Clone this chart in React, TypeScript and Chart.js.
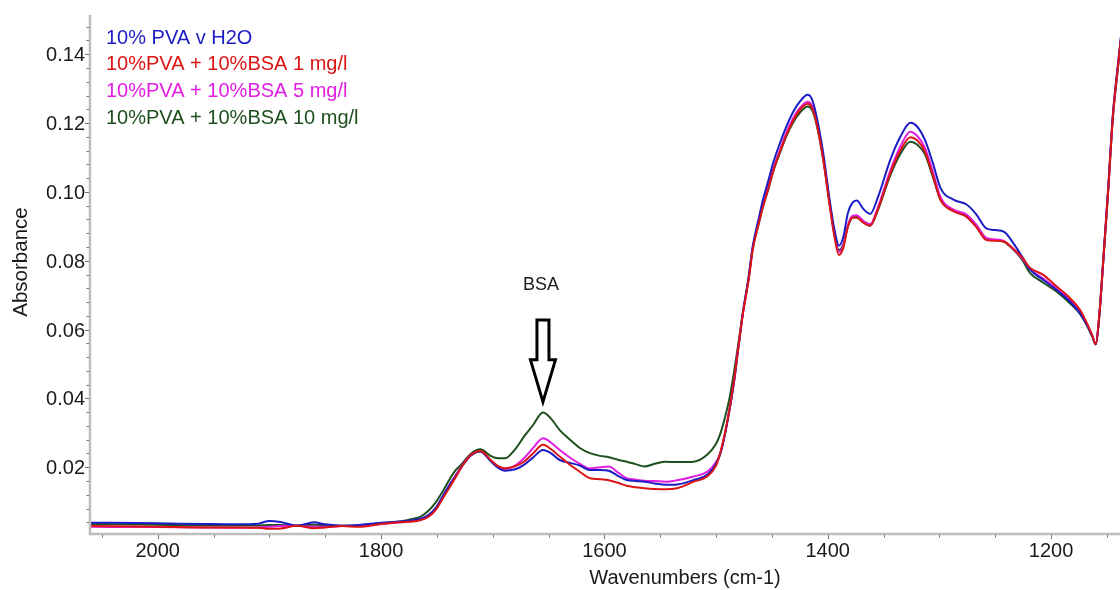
import React, { useEffect, useRef } from 'react';
import { Chart, registerables } from 'chart.js';

Chart.register(...registerables);

// ---------- data ----------
const wavenumbers = [
  2060, 2000, 1960, 1930, 1910, 1900, 1890, 1875, 1860, 1850,
  1835, 1820, 1800, 1783, 1772, 1765, 1758, 1751, 1744, 1738,
  1733, 1728, 1720, 1711, 1702, 1695, 1689, 1680, 1672, 1664,
  1655, 1648, 1640, 1630, 1622, 1613, 1604, 1596, 1588, 1580,
  1572, 1564, 1555, 1545, 1535, 1520, 1508, 1500, 1496, 1492,
  1488, 1484, 1480, 1476, 1471, 1467, 1462, 1458, 1453, 1449,
  1443, 1437, 1431, 1425, 1418, 1414, 1410, 1404, 1398, 1394,
  1390, 1386, 1382, 1378, 1374, 1368, 1362, 1355, 1344, 1335,
  1326, 1320, 1313, 1306, 1299, 1287, 1276, 1267, 1258, 1250,
  1242, 1234, 1226, 1219, 1207, 1195, 1183, 1174, 1167, 1163,
  1160, 1157, 1153.5, 1149, 1144.6, 1140, 1137,
];

const pvaWater = [
  .0039, .0037, .0035, .0034, .0036, .0044, .0041, .0030, .0040, .0034,
  .0030, .0032, .0039, .0042, .0046, .0050, .0060, .0082, .0120, .0152,
  .0175, .0200, .0233, .0246, .0218, .0198, .0190, .0194, .0207, .0228,
  .0250, .0241, .0221, .0212, .0205, .0192, .0192, .0190, .0175, .0163,
  .0160, .0158, .0153, .0149, .0150, .0163, .0178, .0210, .0241, .0296,
  .0365, .0445, .0548, .0647, .0750, .0845, .0920, .0977, .1035, .1083,
  .1140, .1190, .1232, .1262, .1282, .1268, .1219, .1112, .0970, .0890,
  .0844, .0870, .0938, .0968, .0975, .0950, .0936, .0985, .1093, .1160,
  .1201, .1190, .1151, .1085, .1011, .0977, .0964, .0935, .0894, .0889,
  .0884, .0852, .0812, .0775, .0744, .0715, .0681, .0647, .0609, .0580,
  .0557, .0635, .0793, .1006, .1229, .1375, .1465,
];

const bsa1 = [
  .0029, .0027, .0025, .0025, .0024, .0021, .0022, .0030, .0023, .0025,
  .0029, .0027, .0035, .0040, .0042, .0046, .0055, .0076, .0113, .0145,
  .0172, .0200, .0234, .0247, .0222, .0203, .0197, .0203, .0216, .0240,
  .0265, .0253, .0231, .0205, .0187, .0168, .0165, .0162, .0155, .0146,
  .0142, .0139, .0137, .0136, .0139, .0158, .0173, .0205, .0245, .0300,
  .0368, .0450, .0550, .0645, .0740, .0835, .0905, .0957, .1012, .1059,
  .1115, .1166, .1207, .1238, .1256, .1244, .1200, .1093, .0955, .0870,
  .0817, .0838, .0899, .0925, .0925, .0910, .0902, .0950, .1054, .1120,
  .1159, .1150, .1118, .1050, .0977, .0943, .0928, .0898, .0860, .0858,
  .0855, .0835, .0810, .0780, .0759, .0725, .0691, .0657, .0612, .0582,
  .0557, .0635, .0790, .1000, .1222, .1368, .1460,
];

const bsa5 = [
  .0027, .0026, .0025, .0024, .0025, .0027, .0029, .0030, .0027, .0027,
  .0029, .0030, .0035, .0040, .0043, .0047, .0058, .0080, .0118, .0152,
  .0178, .0202, .0235, .0246, .0220, .0201, .0195, .0205, .0226, .0255,
  .0284, .0272, .0250, .0226, .0210, .0197, .0200, .0202, .0185, .0168,
  .0164, .0161, .0160, .0158, .0162, .0173, .0187, .0215, .0243, .0298,
  .0368, .0447, .0548, .0647, .0745, .0840, .0910, .0962, .1018, .1065,
  .1120, .1172, .1214, .1244, .1262, .1250, .1204, .1098, .0958, .0876,
  .0826, .0845, .0903, .0930, .0932, .0915, .0906, .0956, .1062, .1132,
  .1175, .1163, .1128, .1060, .0985, .0948, .0935, .0905, .0866, .0862,
  .0857, .0835, .0807, .0776, .0748, .0718, .0684, .0650, .0610, .0580,
  .0557, .0635, .0790, .1000, .1222, .1368, .1460,
];

const bsa10 = [
  .0035, .0033, .0031, .0031, .0031, .0032, .0032, .0031, .0033, .0031,
  .0030, .0031, .0037, .0042, .0050, .0056, .0072, .0098, .0134, .0168,
  .0192, .0208, .0238, .0252, .0233, .0226, .0226, .0252, .0289, .0322,
  .0359, .0342, .0308, .0278, .0256, .0241, .0233, .0229, .0222, .0216,
  .0209, .0202, .0210, .0216, .0215, .0216, .0236, .0268, .0299, .0345,
  .0400, .0475, .0560, .0650, .0745, .0838, .0905, .0957, .1010, .1057,
  .1112, .1162, .1202, .1230, .1248, .1238, .1196, .1094, .0960, .0880,
  .0831, .0848, .0899, .0925, .0928, .0912, .0902, .0948, .1048, .1110,
  .1146, .1138, .1110, .1045, .0977, .0945, .0932, .0902, .0864, .0860,
  .0855, .0833, .0803, .0765, .0736, .0710, .0676, .0645, .0606, .0578,
  .0557, .0632, .0786, .0996, .1218, .1363, .1455,
];

const seriesLabels = [
  '10% PVA v H2O',
  '10%PVA + 10%BSA 1 mg/l',
  '10%PVA + 10%BSA 5 mg/l',
  '10%PVA + 10%BSA 10 mg/l',
];
const seriesValues = [pvaWater, bsa1, bsa5, bsa10];
const seriesColors = ['#1c1cc4', '#dc1414', '#e21ee2', '#1e4f1e'];
const seriesDrawOrder = [1, 0, 2, 3];

const xTickValues = [2000, 1800, 1600, 1400, 1200];
const yTickValues = [0.02, 0.04, 0.06, 0.08, 0.10, 0.12, 0.14];
const xRange = [1138.3, 2060.6];
const yRange = [0.0006, 0.1514];
const xMinorStep = 50;
const yMinorStep = 0.004;

const xTitle = 'Wavenumbers (cm-1)';
const yTitle = 'Absorbance';
const annotationText = 'BSA';
const annotationWavenumber = 1655;
const annotationTextValue = 0.0716;
const arrowTopValue = 0.0628;
const arrowNeckValue = 0.0512;
const arrowTipValue = 0.0390;

const FONT = "'Liberation Sans', Arial, sans-serif";

const decorPlugin = {
  id: 'decor',
  afterDraw(chart: any) {
    const { ctx, chartArea: a, scales } = chart;
    const x = scales.x;
    const y = scales.y;
    ctx.save();

    // axis lines
    ctx.strokeStyle = '#bdbdbd';
    ctx.lineWidth = 2.5;
    ctx.beginPath();
    ctx.moveTo(a.left, a.top);
    ctx.lineTo(a.left, a.bottom);
    ctx.lineTo(a.right, a.bottom);
    ctx.stroke();

    // ticks
    ctx.strokeStyle = '#707070';
    ctx.lineWidth = 1;
    const xMinTick = Math.ceil(xRange[0] / xMinorStep) * xMinorStep;
    for (let v = xMinTick; v <= xRange[1]; v += xMinorStep) {
      const px = Math.round(x.getPixelForValue(v)) + 0.5;
      const major = xTickValues.includes(v);
      ctx.beginPath();
      ctx.moveTo(px, a.bottom + 1);
      ctx.lineTo(px, a.bottom + (major ? 5 : 3.5));
      ctx.stroke();
    }
    for (let k = 1; k * yMinorStep <= yRange[1]; k++) {
      const v = k * yMinorStep;
      const py = Math.round(y.getPixelForValue(v)) + 0.5;
      const major = k % 5 === 0;
      ctx.beginPath();
      ctx.moveTo(a.left - 1, py);
      ctx.lineTo(a.left - (major ? 5 : 3.5), py);
      ctx.stroke();
    }

    // tick labels
    ctx.fillStyle = '#1a1a1a';
    ctx.font = `20px ${FONT}`;
    ctx.textBaseline = 'alphabetic';
    ctx.textAlign = 'center';
    xTickValues.forEach((v) => {
      ctx.fillText(String(v), x.getPixelForValue(v), a.bottom + 23);
    });
    ctx.textAlign = 'right';
    yTickValues.forEach((v) => {
      ctx.fillText(v.toFixed(2), a.left - 5, y.getPixelForValue(v) + 7);
    });

    // axis titles
    ctx.textAlign = 'center';
    ctx.fillText(xTitle, 685, 584);
    ctx.save();
    ctx.translate(27, 262);
    ctx.rotate(-Math.PI / 2);
    ctx.font = `20.5px ${FONT}`;
    ctx.fillText(yTitle, 0, 0);
    ctx.restore();

    // legend (coloured text only)
    ctx.textAlign = 'left';
    seriesLabels.forEach((label, i) => {
      ctx.fillStyle = seriesColors[i];
      ctx.fillText(label, 106, 43.5 + i * 26.7);
    });

    // BSA annotation
    const ax = x.getPixelForValue(annotationWavenumber);
    ctx.fillStyle = '#1a1a1a';
    ctx.font = `18px ${FONT}`;
    ctx.textAlign = 'center';
    ctx.fillText(annotationText, ax - 2, y.getPixelForValue(annotationTextValue));
    const top = y.getPixelForValue(arrowTopValue);
    const neck = y.getPixelForValue(arrowNeckValue);
    const tip = y.getPixelForValue(arrowTipValue);
    ctx.beginPath();
    ctx.moveTo(ax - 6, top);
    ctx.lineTo(ax + 6, top);
    ctx.lineTo(ax + 6, neck);
    ctx.lineTo(ax + 12.5, neck);
    ctx.lineTo(ax, tip);
    ctx.lineTo(ax - 12.5, neck);
    ctx.lineTo(ax - 6, neck);
    ctx.closePath();
    ctx.fillStyle = '#ffffff';
    ctx.fill();
    ctx.strokeStyle = '#000000';
    ctx.lineWidth = 3;
    ctx.lineJoin = 'miter';
    ctx.stroke();

    ctx.restore();
  },
};

export default function App() {
  const ref = useRef<HTMLCanvasElement>(null);

  useEffect(() => {
    document.body.style.margin = '0';
    const canvas = ref.current;
    if (!canvas) return;
    const chart = new Chart(canvas, {
      type: 'line',
      data: {
        datasets: seriesValues.map((vals, i) => ({
          label: seriesLabels[i],
          data: wavenumbers.map((w, j) => ({ x: w, y: vals[j] })),
          borderColor: seriesColors[i],
          backgroundColor: seriesColors[i],
          borderWidth: 2,
          pointRadius: 0,
          fill: false,
          cubicInterpolationMode: 'monotone',
          order: seriesDrawOrder[i],
        })),
      },
      options: {
        animation: false,
        responsive: false,
        maintainAspectRatio: false,
        devicePixelRatio: 1,
        layout: { padding: { top: 15, right: 0, left: 0, bottom: 0 } },
        plugins: {
          legend: { display: false },
          tooltip: { enabled: false },
          title: { display: false },
        },
        scales: {
          x: {
            type: 'linear',
            reverse: true,
            min: xRange[0],
            max: xRange[1],
            grid: { display: false },
            border: { display: false },
            ticks: { display: false },
            afterFit: (s: any) => {
              s.height = 56;
            },
          },
          y: {
            type: 'linear',
            min: yRange[0],
            max: yRange[1],
            grid: { display: false },
            border: { display: false },
            ticks: { display: false },
            afterFit: (s: any) => {
              s.width = 90;
            },
          },
        },
      } as any,
      plugins: [decorPlugin],
    });
    return () => chart.destroy();
  }, []);

  return (
    <div style={{ width: 1120, height: 590, background: '#ffffff' }}>
      <canvas ref={ref} width={1120} height={590} style={{ display: 'block' }} />
    </div>
  );
}
